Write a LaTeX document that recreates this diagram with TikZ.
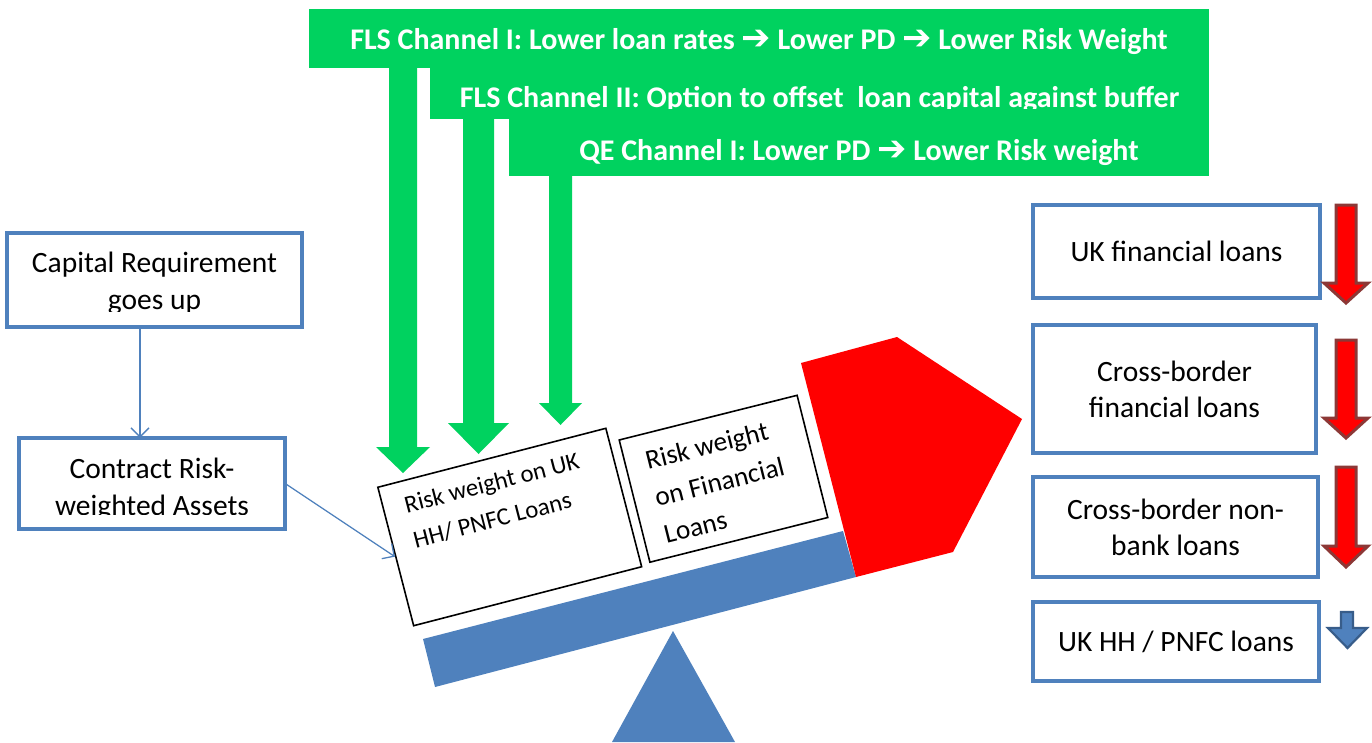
\documentclass[tikz,border=0pt]{standalone}
\usepackage{fontspec}
\setmainfont{Carlito}
\newfontfamily\arrowfont{DejaVu Sans}
\usetikzlibrary{arrows.meta}
\definecolor{fgreen}{RGB}{0,210,95}
\definecolor{sblue}{RGB}{79,129,189}
\definecolor{dblue}{RGB}{56,93,138}
\definecolor{dred}{RGB}{140,56,54}
\newcommand\rar{{\arrowfont\bfseries\fontsize{35}{36}\selectfont ➔}}
\begin{document}
\begin{tikzpicture}[x=1pt,y=-1pt,
  banner/.style={fill=fgreen, inner sep=0, anchor=north west},
  bantext/.style={text=white, font=\fontsize{30}{36}\selectfont\bfseries, inner sep=0, anchor=base},
  boxtext/.style={align=center, inner sep=0, font=\fontsize{29.5}{37}\selectfont},
  lboxline/.style={draw=sblue, line width=3.5},
  rbox/.style={draw=sblue, line width=3.5, fill=white, align=center, inner sep=0, font=\fontsize{29.5}{36}\selectfont},
  tbox/.style={draw=black, line width=1.6, fill=white, inner ysep=0},
  thinarrow/.style={draw=sblue, line width=1.3, -{Straight Barb[length=9,width=18]}},
  greenarrow/.style={fill=fgreen},
  redarrow/.style={fill=red, draw=dred, line width=3, line join=miter},
  bluearrow/.style={fill=sblue, draw=dblue, line width=2.2, line join=miter}
]
\useasboundingbox (0,0) rectangle (1372,742);
\fill[white] (0,0) rectangle (1372,742);

% green banners
\node[banner, minimum width=900, minimum height=59] (b1) at (309,9) {};
\node[banner, minimum width=779, minimum height=51] (b2) at (430,68) {};
\node[banner, minimum width=700, minimum height=57] (b3) at (509,119) {};
\node[bantext] (t1) at (759,49) {FLS Channel I: Lower loan rates \rar\ Lower PD \rar\ Lower Risk Weight};
\begin{scope}
  \clip (0,0) rectangle (1372,108.5);
  \node[bantext] (t2) at (819.5,107) {FLS Channel II: Option to offset~ loan capital against buffer};
\end{scope}
\node[bantext] (t3) at (859,160) {QE Channel I: Lower PD \rar\ Lower Risk weight};

% green block arrows
\fill[greenarrow] (389,68) -- (417,68) -- (417,447) -- (430,447) -- (403,473) -- (376,447) -- (389,447) -- cycle;
\fill[greenarrow] (463,119) -- (494,119) -- (494,423) -- (509,423) -- (478.5,454) -- (448,423) -- (463,423) -- cycle;
\fill[greenarrow] (549,176) -- (572,176) -- (572,403) -- (582,403) -- (560.5,425) -- (539,403) -- (549,403) -- cycle;

% fulcrum, beam, weight
\fill[sblue] (673,631) -- (735,742) -- (612,742) -- cycle;
\fill[sblue] (423,639) -- (843,531) -- (856,577) -- (435,687) -- cycle;
\fill[red] (801,363) -- (897,337) -- (1022,419) -- (953,552) -- (856,577) -- cycle;

% tilted boxes on the beam
\node[tbox, rotate=14.5, inner xsep=21.6, minimum width=235.5, minimum height=143] (r1) at (509.75,527)
  {\parbox[c][143pt][t]{192.3pt}{\fontsize{24.7}{36}\selectfont\raggedright\rule{0pt}{32.4pt}Risk weight on UK\\HH/ PNFC Loans}};
\node[tbox, rotate=14.1, inner xsep=20.8, minimum width=183.4, minimum height=126] (r2) at (723.5,478.75)
  {\parbox[c][126pt][t]{141.8pt}{\fontsize{27.3}{38}\selectfont\raggedright\rule{0pt}{36.1pt}Risk weight\\on Financial\\Loans}};

% left boxes
\begin{scope}
  \clip (0,0) rectangle (1372,311.5);
  \node[boxtext, minimum width=295, minimum height=94] (cap) at (154.5,283.5) {Capital Requirement\\goes up};
\end{scope}
\draw[lboxline] ([yshift=3.5]cap.south west) rectangle ([yshift=3.5]cap.north east);
\begin{scope}
  \clip (0,0) rectangle (1372,514);
  \node[boxtext, minimum width=266, minimum height=91] (con) at (152,489) {Contract Risk-\\weighted Assets};
\end{scope}
\draw[lboxline] ([yshift=5.5]con.south west) rectangle ([yshift=5.5]con.north east);

\draw[thinarrow] ([xshift=-14.5,yshift=3.5]cap.south) -- ([xshift=-12,yshift=5.5]con.north);
\draw[thinarrow] ([yshift=5.5]con.east) -- (r1.west);

% right boxes
\node[rbox, minimum width=287, minimum height=93] (ra) at (1176.5,251.5) {UK financial loans};
\node[rbox, minimum width=283, minimum height=128] (rb) at (1174.5,389) {Cross-border\\financial loans};
\node[rbox, minimum width=285, minimum height=100] (rc) at (1175.5,527) {Cross-border non-\\bank loans};
\node[rbox, minimum width=286, minimum height=79] (rd) at (1176,641.5) {UK HH / PNFC loans};

% right down arrows
\filldraw[redarrow] (1336,205) -- (1356,205) -- (1356,283) -- (1368,283) -- (1346,303) -- (1324,283) -- (1336,283) -- cycle;
\filldraw[redarrow] (1336,340) -- (1356,340) -- (1356,418) -- (1368,418) -- (1346,438) -- (1324,418) -- (1336,418) -- cycle;
\filldraw[redarrow] (1336,467) -- (1356,467) -- (1356,546) -- (1368,546) -- (1346,567) -- (1324,546) -- (1336,546) -- cycle;
\filldraw[bluearrow] (1341,612) -- (1353,612) -- (1353,628) -- (1367,628) -- (1347.5,648) -- (1328,628) -- (1341,628) -- cycle;
\end{tikzpicture}
\end{document}
